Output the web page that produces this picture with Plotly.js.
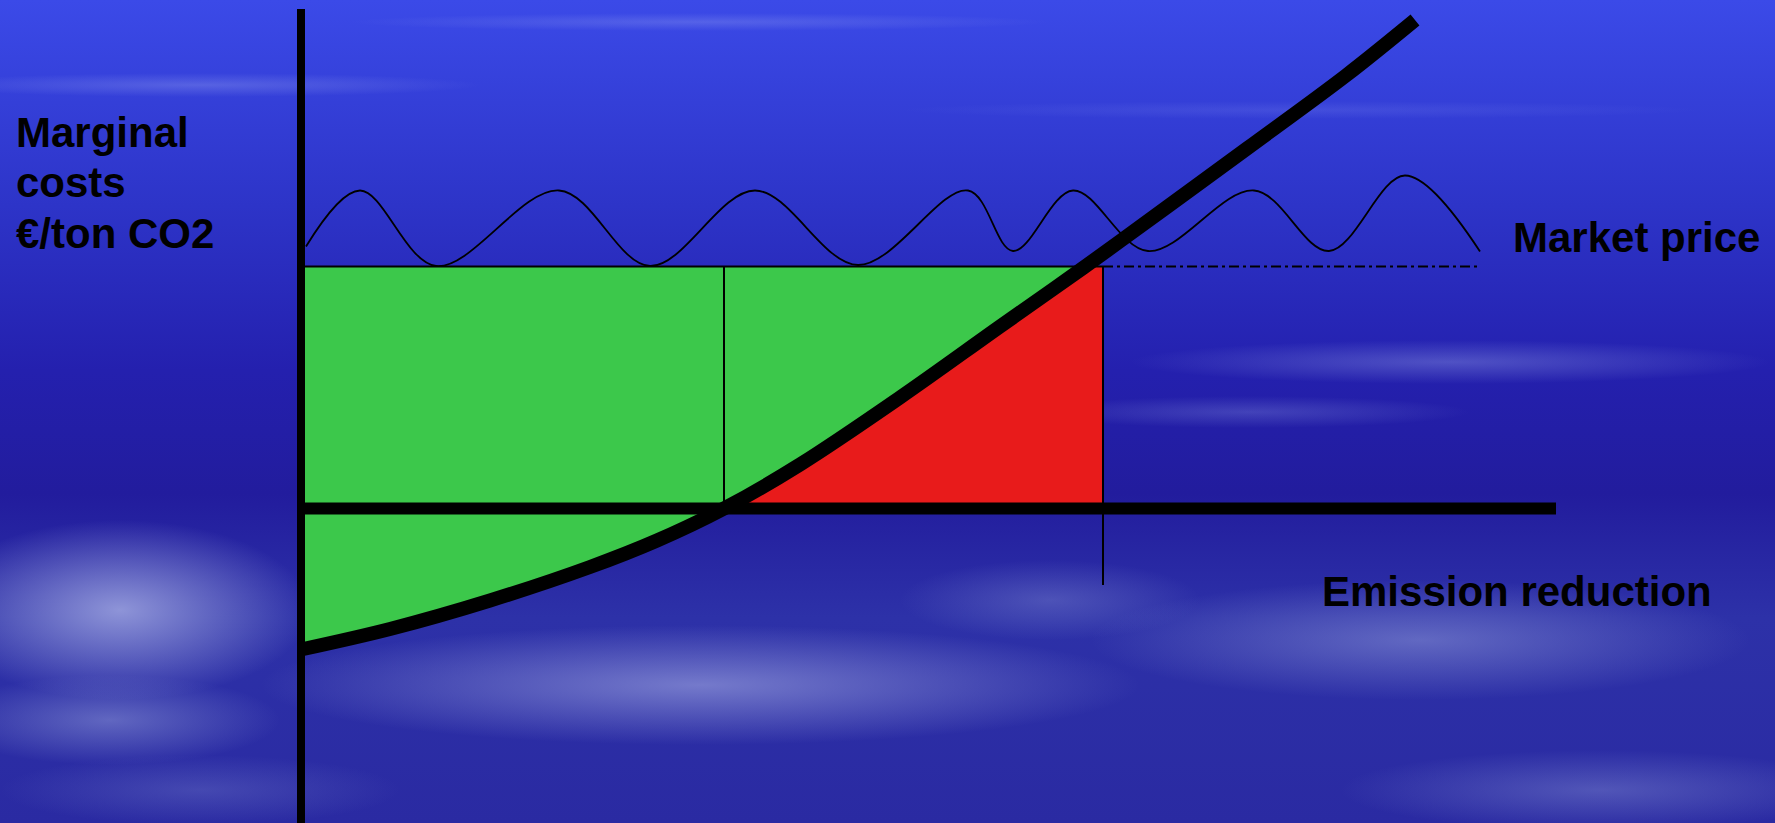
<!DOCTYPE html>
<html>
<head>
<meta charset="utf-8">
<script src="https://cdn.plot.ly/plotly-3.0.1.min.js"></script>
<style>
html, body { margin: 0; padding: 0; overflow: hidden; }
#chart {
  width: 1775px; height: 823px;
  background:
    radial-gradient(ellipse 190px 90px at 120px 610px, rgba(175,182,232,0.75), rgba(175,182,232,0) 100%),
    radial-gradient(ellipse 170px 45px at 110px 720px, rgba(150,160,220,0.5), rgba(150,160,220,0) 100%),
    radial-gradient(ellipse 440px 60px at 700px 685px, rgba(165,172,228,0.6), rgba(165,172,228,0) 100%),
    radial-gradient(ellipse 330px 60px at 1420px 640px, rgba(150,160,220,0.5), rgba(150,160,220,0) 100%),
    radial-gradient(ellipse 150px 40px at 1050px 600px, rgba(140,150,215,0.35), rgba(140,150,215,0) 100%),
    radial-gradient(ellipse 320px 22px at 1450px 362px, rgba(145,155,228,0.4), rgba(145,155,228,0) 100%),
    radial-gradient(ellipse 220px 16px at 1250px 412px, rgba(140,150,225,0.3), rgba(140,150,225,0) 100%),
    radial-gradient(ellipse 280px 12px at 200px 85px, rgba(150,160,240,0.35), rgba(150,160,240,0) 100%),
    radial-gradient(ellipse 350px 9px at 700px 22px, rgba(150,160,240,0.3), rgba(150,160,240,0) 100%),
    radial-gradient(ellipse 400px 9px at 1300px 110px, rgba(130,140,240,0.2), rgba(130,140,240,0) 100%),
    radial-gradient(ellipse 260px 40px at 1600px 790px, rgba(140,150,215,0.4), rgba(140,150,215,0) 100%),
    radial-gradient(ellipse 200px 35px at 200px 790px, rgba(130,140,210,0.3), rgba(130,140,210,0) 100%),
    linear-gradient(to bottom, #3b4ae8 0%, #2d34c8 25%, #2420ae 45%, #221c9d 60%, #2d31a8 75%, #2a2aa2 100%);
}
</style>
</head>
<body>
<div id="chart"></div>
<script>
// marginal abatement cost curve: emission reduction vs €/ton CO2
var costX = [0, 8.9, 18.9, 28.9, 35.6, 42.3, 49.9, 59.9, 69.9, 78.2, 86.6, 94.6, 104.5, 111.4];
var costY = [-14.1, -12.05, -9.2, -5.85, -3.2, 0, 4.4, 11.1, 18.2, 24.05, 30.15, 36.0, 43.3, 48.85];

// fluctuating market price
var priceX = [0.5, 5.9, 13.5, 25.8, 34.9, 45.4, 55.7, 66.7, 71.2, 77.2, 84.7, 95.3, 102.8, 110.4, 117.9];
var priceY = [26.2, 31.8, 24.25, 31.8, 24.25, 31.8, 24.35, 31.8, 25.75, 31.8, 25.75, 31.8, 25.75, 33.3, 25.7];

var marketPrice = 24.2;   // price level used for the areas
var zeroCostQ = 42.3;     // reduction where marginal cost is zero
var targetQ = 80.2;       // reduction chosen at the market price
var targetLow = -7.65;
var priceLineEnd = 117.9;

var labels = ['Marginal', 'costs', '€/ton CO2'];

// where the cost curve reaches the market price
function crossAt(level)
{
	for (var i = 1; i < costX.length; i++) {
		if (costY[i] >= level) {
			var t = (level - costY[i-1]) / (costY[i] - costY[i-1]);
			return costX[i-1] + t * (costX[i] - costX[i-1]);
		}
	}
	return costX[costX.length - 1];
}

var crossQ = crossAt(marketPrice);

// green: everything between price level and the curve, left of crossing
var greenX = [0, crossQ];
var greenY = [marketPrice, marketPrice];
for (var i = costX.length - 1; i >= 0; i--) {
	if (costX[i] < crossQ) {
		greenX.push(costX[i]);
		greenY.push(costY[i]);
	}
}

// red: under the curve above zero, up to targetQ
var redX = [zeroCostQ];
var redY = [0];
for (var i = 0; i < costX.length; i++) {
	if (costX[i] > zeroCostQ && costX[i] < crossQ) {
		redX.push(costX[i]);
		redY.push(costY[i]);
	}
}
redX.push(crossQ, targetQ, targetQ);
redY.push(marketPrice, marketPrice, 0);

var black = '#000000';

var data = [
	{x: greenX, y: greenY, mode: 'lines', fill: 'toself', fillcolor: '#3cc84b', line: {width: 0}},
	{x: redX, y: redY, mode: 'lines', fill: 'toself', fillcolor: '#e81b1b', line: {width: 0}},
	{x: [0, targetQ], y: [marketPrice, marketPrice], mode: 'lines', line: {color: black, width: 2}},
	{x: [targetQ, priceLineEnd], y: [marketPrice, marketPrice], mode: 'lines', line: {color: black, width: 2, dash: '10px,4px,3px,4px'}},
	{x: [zeroCostQ, zeroCostQ], y: [0, marketPrice], mode: 'lines', line: {color: black, width: 2}},
	{x: [targetQ, targetQ], y: [targetLow, marketPrice], mode: 'lines', line: {color: black, width: 2}},
	{x: priceX, y: priceY, mode: 'lines', line: {color: black, width: 1.8, shape: 'spline', smoothing: 1}},
	{x: [0, 125.5], y: [0, 0], mode: 'lines', line: {color: black, width: 12}},
	{x: [0, 0], y: [-40, 49.95], mode: 'lines', line: {color: black, width: 8}},
	{x: costX, y: costY, mode: 'lines', line: {color: black, width: 14, shape: 'spline', smoothing: 1}}
];

var font = {family: 'Liberation Sans, Arial, Helvetica, sans-serif', size: 42, color: black};
var labelY = [37.6, 32.65, 27.5];
var annotations = [];
for (var i = 0; i < labels.length; i++) {
	annotations.push({text: '<b>' + labels[i] + '</b>', x: -28.6, y: labelY[i], xref: 'x', yref: 'y',
		xanchor: 'left', yanchor: 'middle', showarrow: false, font: font, borderpad: 0});
}
annotations.push({text: '<b>Market price</b>', x: 121.1, y: 27.15, xref: 'x', yref: 'y',
	xanchor: 'left', yanchor: 'middle', showarrow: false, font: font, borderpad: 0});
annotations.push({text: '<b>Emission reduction</b>', x: 102, y: -8.25, xref: 'x', yref: 'y',
	xanchor: 'left', yanchor: 'middle', showarrow: false, font: font, borderpad: 0});

var layout = {
	width: 1775,
	height: 823,
	margin: {l: 0, r: 0, t: 0, b: 0, pad: 0},
	paper_bgcolor: 'rgba(0,0,0,0)',
	plot_bgcolor: 'rgba(0,0,0,0)',
	showlegend: false,
	hovermode: false,
	xaxis: {range: [-30.1, 147.4], visible: false, fixedrange: true},
	yaxis: {range: [-31.45, 50.85], visible: false, fixedrange: true},
	annotations: annotations
};

Plotly.newPlot('chart', data, layout, {displayModeBar: false, staticPlot: true});
</script>
</body>
</html>
